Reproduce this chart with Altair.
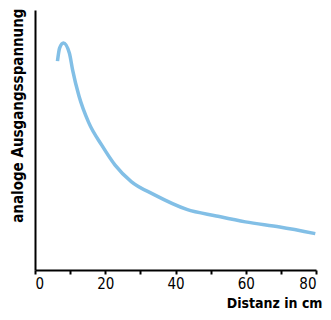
import altair as alt
import pandas as pd

distance_cm = [6.4, 7.0, 8.1, 9.8, 10.7, 12.5, 15.3, 19.0, 22.8, 27.4, 33.9, 43.2, 51.6, 59.9, 69.7, 79.8]
voltage = [2.41, 2.56, 2.62, 2.50, 2.31, 2.01, 1.70, 1.44, 1.21, 1.02, 0.87, 0.70, 0.624, 0.555, 0.495, 0.42]
x_ticks = [0, 10, 20, 30, 40, 50, 60, 70, 80]

df = pd.DataFrame({"d": distance_cm, "v": voltage})

FONT = "DejaVu Sans Condensed, sans-serif"

chart = alt.Chart(df).mark_line(
    color="#82bfe6", strokeWidth=3.5, interpolate="monotone"
).encode(
    x=alt.X("d:Q", scale=alt.Scale(domain=[0, 80], nice=False),
            axis=alt.Axis(values=x_ticks, title="Distanz in cm",
                          labelExpr="datum.value % 20 == 0 ? datum.label : ''",
                          grid=False, domainColor="black", domainWidth=2,
                          tickColor="black", tickWidth=2, tickSize=4,
                          labelFont=FONT, labelFontSize=15, labelColor="black",
                          labelPadding=2,
                          titleFont=FONT, titleFontSize=14, titleFontWeight="bold",
                          titleColor="black", titleAlign="right", titleX=287,
                          titleY=37, titleBaseline="alphabetic")),
    y=alt.Y("v:Q", scale=alt.Scale(domain=[0, 3.0], nice=False),
            axis=alt.Axis(title="analoge Ausgangsspannung", labels=False, ticks=False,
                          grid=False, domainColor="black", domainWidth=2,
                          titleFont=FONT, titleFontSize=15, titleFontWeight="bold",
                          titleColor="black", titleAngle=270, titleAlign="right",
                          titleBaseline="alphabetic", titleX=-13, titleY=-2)),
).properties(
    width=281, height=260,
    autosize=alt.AutoSizeParams(type="none"),
    padding={"left": 27, "top": 2, "right": 7, "bottom": 42},
).configure_view(stroke=None)

chart.save("out.html", embed_options={"renderer": "svg", "actions": False})
